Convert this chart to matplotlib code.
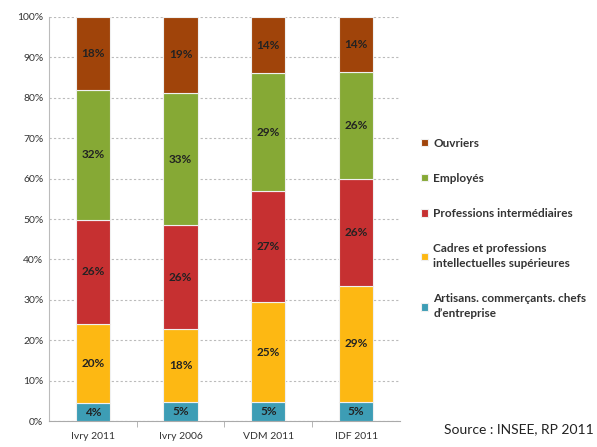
import matplotlib.pyplot as plt
import numpy as np

plt.rcParams['font.family'] = ['Lato', 'DejaVu Sans']

# share of each socio-professional group (%)
territoires = ['Ivry 2011', 'Ivry 2006', 'VDM 2011', 'IDF 2011']
artisans = [4.4, 4.7, 4.6, 4.7]
cadres = [19.6, 18.1, 24.9, 28.8]
intermediaires = [25.8, 25.7, 27.4, 26.4]
employes = [32.1, 32.7, 29.2, 26.4]
ouvriers = [18.1, 18.8, 13.9, 13.7]

groupes = ['Artisans. commerçants. chefs\nd\u2019entreprise',
           'Cadres et professions\nintellectuelles supérieures',
           'Professions intermédiaires',
           'Employés',
           'Ouvriers']
couleurs = ['#3d9db5', '#fdb813', '#c63031', '#86a935', '#a0440a']
series = [artisans, cadres, intermediaires, employes, ouvriers]

fig = plt.figure(figsize=(5.97, 4.47), dpi=100)
ax = fig.add_axes([0.082, 0.058, 0.588, 0.904])

x = np.arange(len(territoires))
bas = np.zeros(len(territoires))
handles = []
for vals, nom, c in zip(series, groupes, couleurs):
    vals = np.array(vals)
    b = ax.bar(x, vals, 0.39, bottom=bas, color=c, edgecolor='#f0f0f0',
               linewidth=0.8, label=nom, zorder=3)
    handles.append(b)
    for xi, v, b0 in zip(x, vals, bas):
        ax.text(xi, b0 + v / 2, '%d%%' % round(v), ha='center', va='center',
                fontsize=8.5, fontweight='bold', color='#222222', zorder=4)
    bas += vals

ax.set_xlim(-0.5, 3.5)
ax.set_ylim(0, 100)
ax.set_yticks(np.arange(0, 101, 10))
ax.set_yticklabels(['%d%%' % t for t in range(0, 101, 10)], fontsize=7.5,
                   color='#333333')
ax.set_xticks(x)
ax.set_xticklabels(territoires, fontsize=7.5, color='#333333')
ax.tick_params(axis='x', length=0, pad=8)
ax.tick_params(axis='y', length=0, pad=4)
ax.set_xticks([0.5, 1.5, 2.5], minor=True)
ax.tick_params(axis='x', which='minor', length=4, color='#aaaaaa')
ax.grid(axis='y', linestyle=(0, (2, 2)), color='#bbbbbb', linewidth=0.8,
        zorder=0)
for s in ['top', 'right']:
    ax.spines[s].set_visible(False)
ax.spines['left'].set_color('#bbbbbb')
ax.spines['bottom'].set_color('#aaaaaa')

leg = fig.legend(handles[::-1], groupes[::-1], loc='upper left',
                 bbox_to_anchor=(0.688, 0.716), frameon=False, fontsize=8.5,
                 handlelength=0.6, handleheight=0.6, handletextpad=0.4,
                 labelspacing=2.05)
for t in leg.get_texts():
    t.set_fontweight('bold')
    t.set_color('#333333')
    t.set_linespacing(1.45)

fig.text(0.995, 0.04, 'Source : INSEE, RP 2011', ha='right', va='center',
         fontsize=10, color='#222222')

fig.savefig('out.png', dpi=100)
